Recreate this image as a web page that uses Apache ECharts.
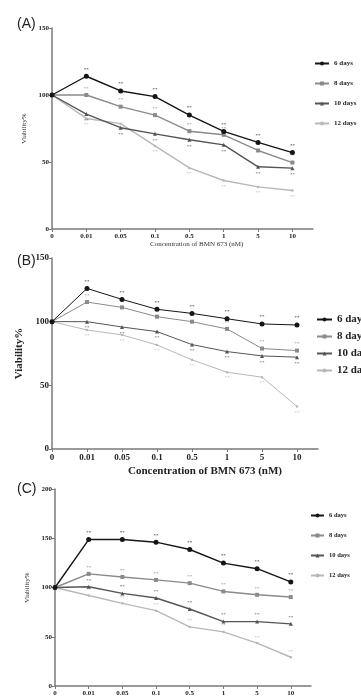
<!DOCTYPE html>
<html>
<head>
<meta charset="utf-8">
<script src="https://cdn.jsdelivr.net/npm/echarts@6/dist/echarts.min.js"></script>
<style>html,body{margin:0;padding:0;background:#fff}#c{width:361px;height:697px}</style>
</head>
<body>
<div id="c"></div>
<script>
const categories = ['0', '0.01', '0.05', '0.1', '0.5', '1', '5', '10'];
const seriesNames = ['6 days', '8 days', '10 days', '12 days'];

// Panel A
const a6 = [100, 114, 103, 98.8, 85, 72.8, 64.6, 57];
const a8 = [100, 100, 91.3, 85, 73, 70.3, 58.6, 49.6];
const a10 = [100, 85.8, 75.6, 71, 66.6, 62.8, 46.4, 45.4];
const a12 = [100, 82.5, 78.6, 62, 45.6, 36.2, 31.4, 28.7];
// Panel B
const b6 = [100, 126.1, 117.5, 109.7, 106.5, 102.3, 98.2, 97.4];
const b8 = [100, 115.4, 111.2, 103.9, 100, 94.3, 78.9, 77.3];
const b10 = [100, 100, 95.8, 92.2, 82, 76.5, 73.1, 72.1];
const b12 = [100, 93.5, 89.6, 81.7, 70, 60.3, 56.4, 33.4];
// Panel C
const c6 = [100, 148.7, 148.7, 146, 138.6, 124.8, 119.1, 105.7];
const c8 = [100, 113.8, 110.7, 107.7, 104.4, 96, 92.6, 90.3];
const c10 = [100, 100.7, 94, 89.3, 78.2, 65.4, 65.4, 63.1];
const c12 = [100, 91.9, 83.9, 76.5, 60, 55, 43.6, 29.2];

const xName = 'Concentration of BMN 673 (nM)';
const yName = 'Viability%';
const panelLabels = ['(A)', '(B)', '(C)'];

const colors = ['#151515', '#8a8a8a', '#555555', '#b8b8b8'];
const symbols = ['circle', 'rect', 'triangle', 'circle'];
const symbolSizes = [5, 4, 4, 2.5];
const serif = '"Liberation Serif", "DejaVu Serif", serif';
const sans = '"Liberation Sans", Arial, sans-serif';

const panels = [
  {data: [a6, a8, a10, a12], grid: {left: 52, top: 28, width: 261, height: 201}, yMax: 150,
   tickFont: 7, yNameFont: 7, yNameGap: 21, yBold: 'normal', lw: 1.4, legend: {left: 309, top: 55, font: 7, gap: 13, w: 14}},
  {data: [b6, b8, b10, b12], grid: {left: 52, top: 258, width: 266, height: 191}, yMax: 150,
   tickFont: 9, yNameFont: 11, yNameGap: 24, yBold: 'bold', lw: 1, legend: {left: 311, top: 309, font: 11, gap: 6, w: 15}},
  {data: [c6, c8, c10, c12], grid: {left: 55, top: 489, width: 256, height: 198}, yMax: 200,
   tickFont: 7, yNameFont: 7, yNameGap: 20, yBold: 'normal', lw: 1.4, legend: {left: 305, top: 507, font: 6.5, gap: 13, w: 13}}
];

const axisColor = '#7a7a7a';
const option = {
  animation: false,
  backgroundColor: '#ffffff',
  title: panels.map((p, i) => ({
    text: panelLabels[i], left: 12, top: [12, 249, 477][i],
    textStyle: {fontFamily: sans, fontSize: 14, fontWeight: 'normal', color: '#222'}
  })),
  grid: panels.map(p => p.grid),
  legend: panels.map((p, i) => ({
    data: seriesNames, orient: 'vertical', left: p.legend.left, top: p.legend.top,
    itemGap: p.legend.gap, itemWidth: p.legend.w, itemHeight: 5,
    textStyle: {fontFamily: serif, fontWeight: 'bold', fontSize: p.legend.font, color: '#222'},
    selectedMode: false
  })),
  xAxis: panels.map((p, i) => ({
    type: 'value', gridIndex: i, min: 0, max: 7.6,
    axisLine: {show: true, lineStyle: {color: axisColor, width: 1.5}},
    axisTick: {show: true, length: 3, customValues: categories.map((c, k) => k), lineStyle: {color: axisColor}},
    axisLabel: {customValues: categories.map((c, k) => k), formatter: v => categories[Math.round(v)],
      fontFamily: serif, fontWeight: 'bold', fontSize: p.tickFont, color: '#222', margin: 4},
    splitLine: {show: false}
  })),
  yAxis: panels.map((p, i) => ({
    type: 'value', gridIndex: i, min: 0, max: p.yMax, interval: 50,
    name: yName, nameLocation: 'middle', nameRotate: 90, nameGap: p.yNameGap,
    nameTextStyle: {fontFamily: serif, fontSize: p.yNameFont, fontWeight: p.yBold, color: '#222'},
    axisLine: {show: true, lineStyle: {color: axisColor, width: 1.5}},
    axisTick: {show: true, length: 3, lineStyle: {color: axisColor}},
    axisLabel: {fontFamily: serif, fontWeight: 'bold', fontSize: p.tickFont, color: '#222', margin: 3},
    splitLine: {show: false}
  })),
  graphic: [
    {type: 'text', left: 150, top: 241, style: {text: xName, font: 'normal 7px ' + serif, fill: '#333'}},
    {type: 'text', left: 128, top: 466, style: {text: xName, font: 'bold 11px ' + serif, fill: '#222'}}
  ],
  series: []
};

panels.forEach((p, gi) => {
  p.data.forEach((arr, si) => {
    option.series.push({
      type: 'line', name: seriesNames[si], xAxisIndex: gi, yAxisIndex: gi,
      data: arr.map((v, k) => [k, v]),
      symbol: symbols[si], symbolSize: symbolSizes[si], showAllSymbol: true,
      lineStyle: {color: colors[si], width: p.lw},
      itemStyle: {color: colors[si]},
      label: {show: true, position: si >= 2 && gi !== 2 ? 'bottom' : 'top', distance: 2,
        formatter: d => d.dataIndex === 0 ? '' : '**',
        fontSize: 5, color: colors[si], fontFamily: serif},
      z: 10 - si
    });
  });
});

const chart = echarts.init(document.getElementById('c'), null, {renderer: 'canvas'});
chart.setOption(option);
</script>
</body>
</html>
